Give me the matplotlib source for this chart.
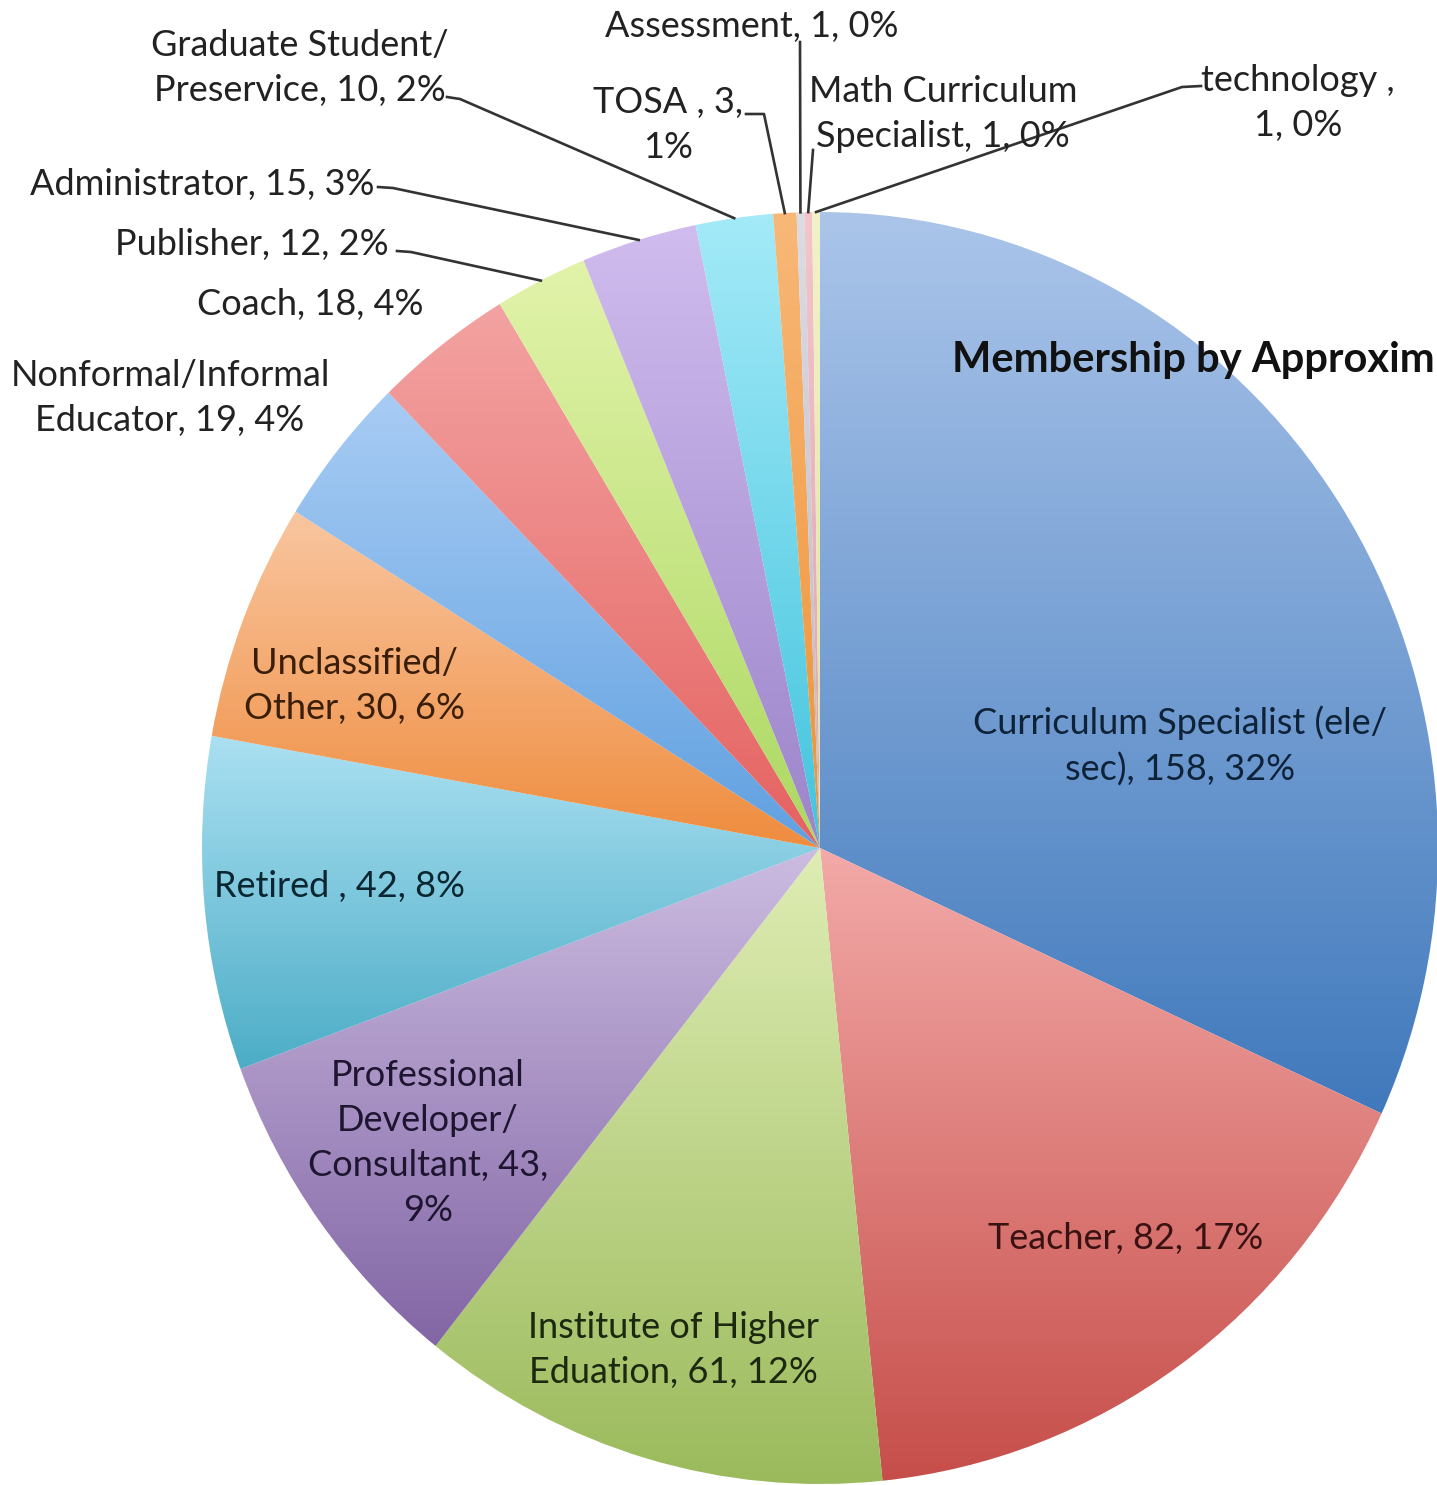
import numpy as np
import matplotlib.pyplot as plt
from matplotlib.colors import to_rgb

# slices, clockwise from 12 o'clock
roles = ['Curriculum Specialist (ele/sec)', 'Teacher', 'Institute of Higher Eduation',
         'Professional Developer/Consultant', 'Retired', 'Unclassified/Other',
         'Nonformal/Informal Educator', 'Coach', 'Publisher', 'Administrator',
         'Graduate Student/Preservice', 'TOSA', 'Assessment', 'Math Curriculum Specialist',
         'technology']
counts = [158, 82, 61, 43, 42, 30, 19, 18, 12, 15, 10, 3, 1, 1, 1]
label_texts = ['Curriculum Specialist (ele/\nsec), 158, 32%', 'Teacher, 82, 17%',
               'Institute of Higher\nEduation, 61, 12%',
               'Professional\nDeveloper/\nConsultant, 43,\n9%', 'Retired , 42, 8%',
               'Unclassified/\nOther, 30, 6%', 'Nonformal/Informal\nEducator, 19, 4%',
               'Coach, 18, 4%', 'Publisher, 12, 2%', 'Administrator, 15, 3%',
               'Graduate Student/\nPreservice, 10, 2%', 'TOSA , 3,\n1%', 'Assessment, 1, 0%',
               'Math Curriculum\nSpecialist, 1, 0%', 'technology ,\n1, 0%']
# title is cropped at the right edge in the source image
title = 'Membership by Approxim'

# gradient colours (top, bottom) per slice
top_colors = ['#ABC5EA', '#F3AAA8', '#DFEDB4', '#CCBCE1', '#ABE0F2', '#F9C6A0', '#A8CCF4',
              '#F3A3A2', '#E2F3AA', '#D0BCEE', '#A4EAF8', '#F8B878', '#DCDCE4', '#F2C6CC',
              '#F2F2C8']
bottom_colors = ['#4079BC', '#C64E4A', '#9BBA5C', '#8266A5', '#4CADC6', '#EF8C3E', '#60A0E0',
                 '#E46260', '#ACD862', '#9C84CA', '#42C4DE', '#EE9234', '#B8B8C8', '#E0A0A8',
                 '#E0E0A0']
text_colors = ['#0E2238', '#3A1212', '#1C2810', '#1E1530', '#0A2630', '#3A1E08', '#222222',
               '#222222', '#222222', '#222222', '#222222', '#222222', '#222222', '#222222',
               '#222222']

# layout in pixels of the 1437x1485 canvas
W, H = 1437, 1485
CX, CY, RX, RY = 820, 848, 618, 636
label_pos = [(1180, 746), (1126, 1238), (673, 1350), (428, 1143), (340, 887), (355, 686),
             (170, 398), (310, 305), (252, 244), (202, 185), (300, 68), (668, 125),
             (752, 27), (943, 114), (1298, 103)]
# leader line: label-side anchor and elbow (None = no leader)
leaders = [None, None, None, None, None, None, None, None,
           ((397, 251), (411, 252)), ((378, 187), (393, 188)), ((447, 97), (460, 99)),
           ((746, 114), (764, 114)), ((800, 42), (800, 42)), ((813, 150), (813, 150)),
           ((1201, 86), (1182, 87))]


def px(x, y):
    return (x - CX) / RX, (CY - y) / RY


fig = plt.figure(figsize=(W / 100, H / 100), dpi=100)
ax = fig.add_axes([0, 0, 1, 1])

wedges, _ = ax.pie(counts, startangle=90, counterclock=False, radius=1,
                   wedgeprops=dict(linewidth=0))

for w, c_top, c_bot in zip(wedges, top_colors, bottom_colors):
    ext = w.get_path().get_extents()
    t = np.linspace(0, 1, 256)[:, None]
    grad = (1 - t) * np.array(to_rgb(c_top)) + t * np.array(to_rgb(c_bot))
    grad = grad[:, None, :]
    w.set_facecolor('none')
    im = ax.imshow(grad, extent=(ext.x0, ext.x1, ext.y0, ext.y1), origin='upper',
                   aspect='auto', interpolation='bilinear', zorder=1)
    im.set_clip_path(w)

for i, w in enumerate(wedges):
    if leaders[i] is None:
        continue
    mid = np.deg2rad((w.theta1 + w.theta2) / 2)
    rim = (np.cos(mid), np.sin(mid))
    a, e = leaders[i]
    xs = [px(*a)[0], px(*e)[0], rim[0]]
    ys = [px(*a)[1], px(*e)[1], rim[1]]
    ax.plot(xs, ys, color='#333333', lw=1.9, zorder=3)

for txt, pos, col in zip(label_texts, label_pos, text_colors):
    ax.text(*px(*pos), txt, ha='center', va='center', fontsize=26, family='Lato',
            color=col, linespacing=1.45, zorder=4)

ax.text(*px(952, 360), title, ha='left', va='center', fontsize=30, family='Lato',
        fontweight='bold', color='#111111', zorder=4)

ax.set_xlim(-CX / RX, (W - CX) / RX)
ax.set_ylim((CY - H) / RY, CY / RY)
ax.set_aspect('auto')
ax.axis('off')

fig.savefig('out.png', dpi=100)
